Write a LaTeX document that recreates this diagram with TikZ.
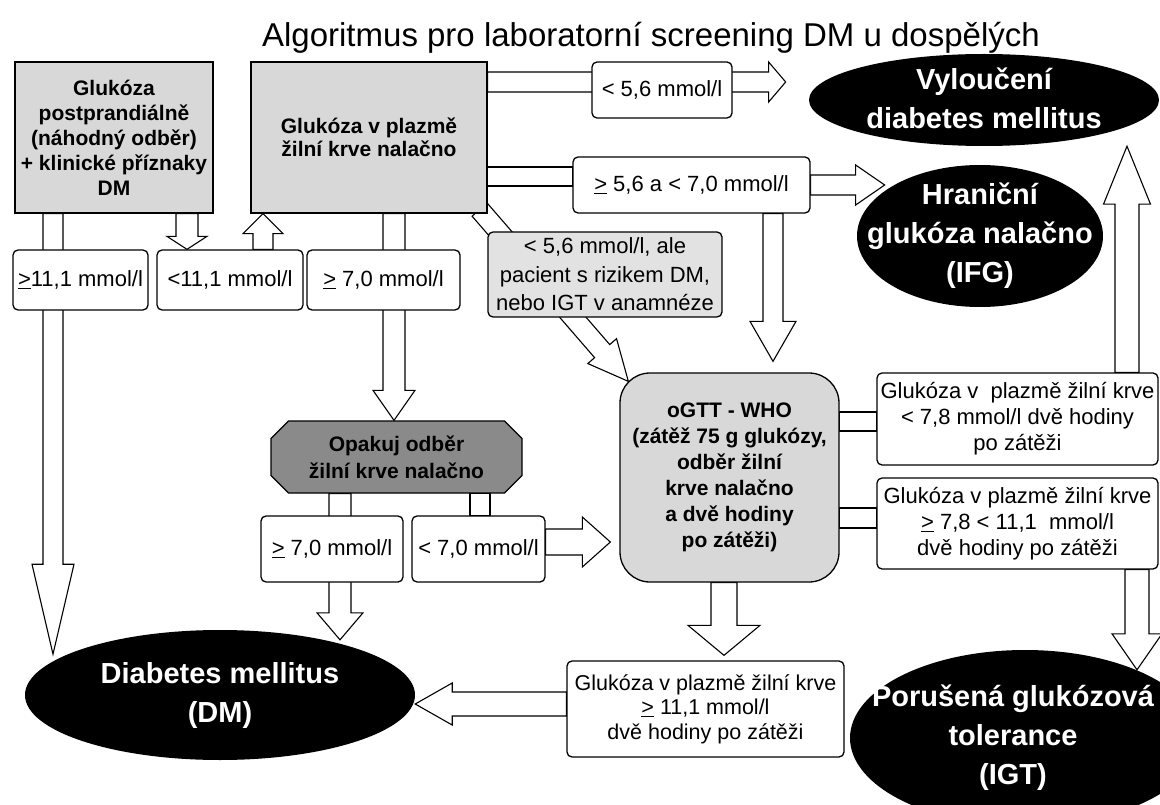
\documentclass[tikz,border=0pt]{standalone}
\usepackage{fontspec}
\setmainfont{Liberation Sans}
\usepackage{tikz}
\usetikzlibrary{calc,shapes.geometric,shapes.misc,backgrounds}

\definecolor{boxgrey}{RGB}{216,216,216}
\definecolor{riskgrey}{RGB}{226,226,226}
\definecolor{repgrey}{RGB}{138,138,138}

\newcommand{\ulgt}{\underline{>}}

% hollow block arrow: from, to, half shaft, half head, head length
\newcommand{\fatarrow}[5]{%
  \path let \p1=($(#2)-(#1)$), \n1={atan2(\y1,\x1)}, \n2={veclen(\x1,\y1)} in
    \pgfextra{\xdef\faang{\n1}\xdef\falen{\n2}};
  \draw[arrowline, shift={(#1)}, rotate=\faang]
    (0pt,#3pt) -- ({\falen-#5pt},#3pt) -- ({\falen-#5pt},#4pt) -- (\falen,0pt)
    -- ({\falen-#5pt},-#4pt) -- ({\falen-#5pt},-#3pt) -- (0pt,-#3pt) -- cycle;
}
% hollow bar without head: from, to, half width
\newcommand{\fatbar}[3]{%
  \path let \p1=($(#2)-(#1)$), \n1={atan2(\y1,\x1)}, \n2={veclen(\x1,\y1)} in
    \pgfextra{\xdef\faang{\n1}\xdef\falen{\n2}};
  \draw[arrowline, shift={(#1)}, rotate=\faang]
    (0pt,#3pt) -- (\falen,#3pt) -- (\falen,-#3pt) -- (0pt,-#3pt) -- cycle;
}

\begin{document}
\begin{tikzpicture}[x=1pt, y=-1pt,
    greytext/.style={align=center, font=\bfseries\fontsize{21}{25}\selectfont},
    greybox/.style={greytext, draw, fill=boxgrey, line width=1.3pt, inner sep=2pt},
    valbox/.style={draw, fill=white, rounded corners=5pt, line width=1.3pt, align=center,
      inner sep=1pt, font=\fontsize{22}{26}\selectfont},
    repbox/.style={chamfered rectangle, chamfered rectangle xsep=14pt, draw, fill=repgrey,
      line width=1.3pt, align=center, font=\bfseries\fontsize{21}{27}\selectfont},
    blackoval/.style={ellipse, fill=black, inner sep=0pt},
    ovaltext/.style={text=white, align=center, font=\bfseries\fontsize{29}{39}\selectfont},
    arrowline/.style={draw, fill=white, line width=1.1pt, line join=miter}]
  \useasboundingbox (0,0) rectangle (1160,805);

  \node[font=\fontsize{33}{40}\selectfont] (title) at (651,38)
    {Algoritmus pro laboratorní screening DM u dospělých};

  % first samples
  \node[greybox, minimum width=198pt, minimum height=151pt] (nA) at (114,137.5)
    {Glukóza\\postprandiálně\\(náhodný odběr)\\+ klinické příznaky\\DM};
  \node[greybox, minimum width=236pt, minimum height=151pt, font=\bfseries\fontsize{21}{23}\selectfont]
    (nB) at (369,137.5) {Glukóza v plazmě\\žilní krve nalačno};

  % values
  \node[valbox, minimum width=135pt, minimum height=60pt] (lA) at (80.5,280) {\ulgt11,1 mmol/l};
  \node[valbox, minimum width=146pt, minimum height=60pt] (lB) at (230,280) {<11,1 mmol/l};
  \node[valbox, minimum width=153pt, minimum height=60pt] (lC) at (383.5,280) {\ulgt\ 7,0 mmol/l};
  \node[valbox, minimum width=140pt, minimum height=56pt] (lLow) at (662,90) {< 5,6 mmol/l};
  \node[valbox, minimum width=237pt, minimum height=56pt] (lMid) at (691.5,185)
    {\ulgt\ 5,6 a < 7,0 mmol/l};
  \node[valbox, fill=riskgrey, minimum width=234pt, minimum height=85pt,
    font=\fontsize{22}{28.5}\selectfont] (lRisk) at (605,274.5)
    {< 5,6 mmol/l, ale\\pacient s rizikem DM,\\nebo IGT v anamnéze};

  % repeated sample
  \node[repbox, minimum width=251pt, minimum height=72pt] (nRep) at (396.5,457)
    {Opakuj odběr\\žilní krve nalačno};
  \node[valbox, minimum width=142pt, minimum height=66pt] (lD) at (332,549) {\ulgt\ 7,0 mmol/l};
  \node[valbox, minimum width=133pt, minimum height=66pt] (lE) at (478.5,549) {< 7,0 mmol/l};

  % oGTT
  \node[greybox, rounded corners=30pt, minimum width=219pt, minimum height=209pt,
    font=\bfseries\fontsize{21}{26}\selectfont] (nOgtt) at (729.5,477.5)
    {oGTT - WHO\\(zátěž 75 g glukózy,\\odběr žilní\\krve nalačno\\a dvě hodiny\\po zátěži)};
  \node[valbox, minimum width=281pt, minimum height=92pt] (rLow) at (1017.5,419)
    {Glukóza v\ \ plazmě žilní krve\\< 7,8 mmol/l dvě hodiny\\po zátěži};
  \node[valbox, minimum width=281pt, minimum height=91pt] (rMid) at (1017.5,523.5)
    {Glukóza v plazmě žilní krve\\\ulgt\ 7,8 < 11,1 \ mmol/l\\dvě hodiny po zátěži};
  \node[valbox, minimum width=277pt, minimum height=96pt, font=\fontsize{21.5}{24.5}\selectfont]
    (rHigh) at (705.5,709)
    {Glukóza v plazmě žilní krve\\\ulgt\ 11,1 mmol/l\\dvě hodiny po zátěži};

  % outcomes
  \node[blackoval, minimum width=350pt, minimum height=92pt,
    label={[ovaltext, yshift=2pt]center:{Vyloučení\\diabetes mellitus}}] (nVyl) at (984,100) {};
  \node[blackoval, minimum width=246pt, minimum height=142pt,
    label={[ovaltext]center:{Hraniční\\glukóza nalačno\\(IFG)}}] (nIfg) at (980,236) {};
  \node[blackoval, minimum width=390pt, minimum height=130pt,
    label={[ovaltext]center:{Diabetes mellitus\\(DM)}}] (nDm) at (220,695) {};
  \node[blackoval, minimum width=350pt, minimum height=176pt,
    label={[ovaltext, xshift=-12pt]center:{Porušená glukózová\\tolerance\\(IGT)}}] (nIgt) at (1025,738) {};

  % arrow ends
  \coordinate (aS) at ($(nA.south)+(-61,0)$);
  \coordinate (aE) at (aS |- nDm.165);
  \coordinate (bS) at ($(nA.south)+(73,0)$);
  \coordinate (bE) at (bS |- lB.north);
  \coordinate (cS) at ($(lB.north)+(33,0)$);
  \coordinate (cE) at (cS |- nB.south);
  \coordinate (dS) at ($(nB.south)+(25,0)$);
  \coordinate (dE) at (dS |- nRep.north);
  \coordinate (eS) at ($(nB.east |- lLow.west)+(0,-8)$);
  \coordinate (eE) at ($(lLow.east)+(53,-8)$);
  \coordinate (fS) at ($(nB.east |- lMid.west)+(0,-8.5)$);
  \coordinate (fE) at ($(lMid.west)+(0,-8.5)$);
  \coordinate (gE) at ($(lMid.east)+(74,0)$);
  \coordinate (hS) at ($(lMid.south)+(81.5,0)$);
  \coordinate (hE) at ($(hS |- nOgtt.north)+(0,-11)$);
  \coordinate (kS) at ($(nB.south east)+(-8,-4)$);
  \coordinate (kE) at ($(nOgtt.north west)+(9,9)$);
  \coordinate (mS) at ($(nRep.south)+(-56.5,0)$);
  \coordinate (mE) at ($(mS |- nDm.north)+(0,10)$);
  \coordinate (oS) at ($(nRep.south)+(83.5,0)$);
  \coordinate (oE) at (oS |- lE.north);
  \coordinate (pS) at ($(lE.east)+(0,-7)$);
  \coordinate (pE) at ($(nOgtt.west |- lE.east)+(-9,-7)$);
  \coordinate (qS) at ($(nOgtt.east |- rLow.west)+(0,2.5)$);
  \coordinate (qE) at ($(rLow.west)+(0,2.5)$);
  \coordinate (rS) at ($(nOgtt.east |- rMid.west)+(0,-5.5)$);
  \coordinate (rE) at ($(rMid.west)+(0,-5.5)$);
  \coordinate (sS) at ($(rLow.north)+(109.5,0)$);
  \coordinate (sE) at (sS |- nVyl.south);
  \coordinate (tS) at ($(rMid.south)+(119.5,0)$);
  \coordinate (tE) at ($(tS |- nIgt.north)+(0,20)$);
  \coordinate (uS) at ($(nOgtt.south)+(-5.5,0)$);
  \coordinate (uE) at ($(uS |- rHigh.north)+(0,-5)$);
  \coordinate (vS) at ($(rHigh.west)+(0,-5)$);
  \coordinate (vE) at (nDm.east |- vS);

  % block arrows behind the boxes
  \begin{pgfonlayer}{background}
    \fatarrow{aS}{aE}{10}{21}{90}
    \fatarrow{bS}{bE}{11}{20}{13}
    \fatarrow{cS}{cE}{10}{20}{20}
    \fatarrow{dS}{dE}{11}{21}{30}
    \fatarrow{eS}{eE}{10}{20}{17}
    \fatbar{fS}{fE}{9.5}
    \fatarrow{lMid.east}{gE}{10}{20}{29}
    \fatarrow{hS}{hE}{10}{23}{40}
    \fatarrow{kS}{kE}{10}{19}{40}
    \fatarrow{mS}{mE}{11}{23}{27}
    \fatbar{oS}{oE}{10}
    \fatarrow{pS}{pE}{13}{25}{28}
    \fatbar{qS}{qE}{9.5}
    \fatbar{rS}{rE}{10}
    \fatarrow{sS}{sE}{12}{23.5}{58}
    \fatarrow{tS}{tE}{12}{25}{36}
    \fatarrow{uS}{uE}{13}{36}{30}
    \fatarrow{vS}{vE}{12}{21}{37}
  \end{pgfonlayer}
\end{tikzpicture}
\end{document}
